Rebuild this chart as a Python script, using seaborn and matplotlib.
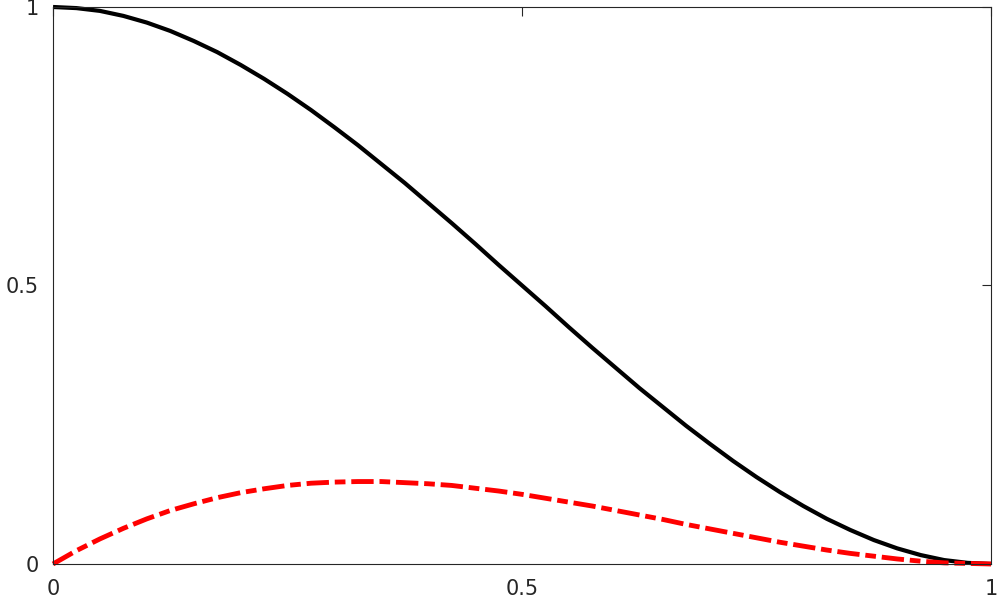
import matplotlib
matplotlib.use("Agg")
import matplotlib.pyplot as plt
import seaborn as sns
import pandas as pd

x_vals = [0.0, 0.025, 0.05, 0.075, 0.1, 0.125, 0.15, 0.175, 0.2, 0.225, 0.25,
          0.275, 0.3, 0.325, 0.35, 0.375, 0.4, 0.425, 0.45, 0.475, 0.5,
          0.525, 0.55, 0.575, 0.6, 0.625, 0.65, 0.675, 0.7, 0.725, 0.75,
          0.775, 0.8, 0.825, 0.85, 0.875, 0.9, 0.925, 0.95, 0.975, 1.0]
black_vals = [1.0, 0.998, 0.993, 0.984, 0.972, 0.957, 0.939, 0.919, 0.896, 0.871, 0.844,
              0.815, 0.784, 0.752, 0.718, 0.684, 0.648, 0.612, 0.575, 0.537, 0.5,
              0.463, 0.425, 0.388, 0.352, 0.316, 0.282, 0.248, 0.216, 0.185, 0.156,
              0.129, 0.104, 0.081, 0.061, 0.043, 0.028, 0.016, 0.007, 0.002, 0.0]
red_vals = [0.0, 0.024, 0.045, 0.064, 0.081, 0.096, 0.108, 0.119, 0.128, 0.135, 0.141,
            0.145, 0.147, 0.148, 0.148, 0.146, 0.144, 0.141, 0.136, 0.131, 0.125,
            0.118, 0.111, 0.104, 0.096, 0.088, 0.080, 0.071, 0.063, 0.055, 0.047,
            0.039, 0.032, 0.025, 0.019, 0.014, 0.009, 0.005, 0.002, 0.001, 0.0]
tick_vals = [0, 0.5, 1]
tick_labels = ["0", "0.5", "1"]

sns.set_theme(style="white")
plt.rcParams['font.family'] = ['DejaVu Sans']

df = pd.DataFrame({"x": x_vals, "black": black_vals, "red": red_vals})

fig = plt.figure(figsize=(9.97, 5.98), dpi=100)
ax = fig.add_axes([0.0532, 0.0569, 0.9408, 0.9314])

sns.lineplot(data=df, x="x", y="black", ax=ax, color="black", linewidth=3.0, sort=False)
sns.lineplot(data=df, x="x", y="red", ax=ax, color="red", linewidth=3.5, sort=False)
ax.lines[1].set_dashes([4.6, 1.2, 2.2, 1.2])
for ln in ax.lines:
    ln.set_solid_capstyle("butt")
    ln.set_clip_on(False)

ax.set_xlim(0, 1)
ax.set_ylim(0, 1)
ax.set_xlabel("")
ax.set_ylabel("")
ax.set_xticks(tick_vals)
ax.set_xticklabels(tick_labels)
ax.set_yticks(tick_vals)
ax.set_yticklabels(tick_labels)
ax.tick_params(direction="in", length=6.5, width=0.8, color="#262626",
               top=True, right=True, labelsize=15, labelcolor="#262626")
ax.tick_params(axis="y", pad=10)
ax.tick_params(axis="x", pad=11)
for s in ax.spines.values():
    s.set_visible(True)
    s.set_color("#262626")
    s.set_linewidth(0.8)

fig.savefig("out.png", dpi=100)
